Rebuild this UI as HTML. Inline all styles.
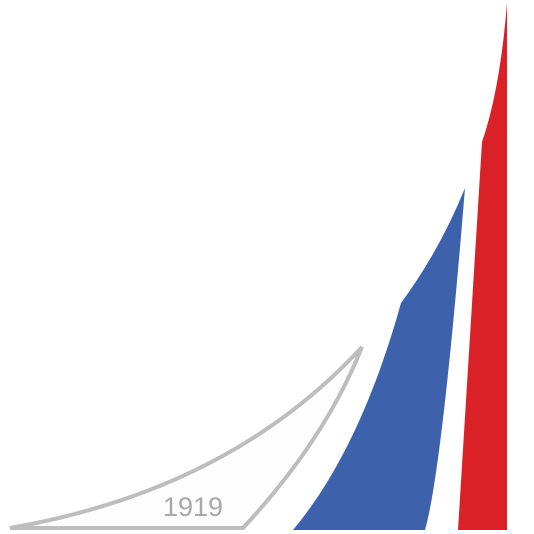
<!DOCTYPE html>
<html><head><meta charset="utf-8"><style>
html,body{margin:0;padding:0;background:#fff;}
svg{display:block;}
</style></head><body>
<svg width="534" height="534" viewBox="0 0 534 534">
  <path d="M10,528 L243,528 Q325,440 362,347 Q230,490 10,528 Z" fill="#fdfdfd" stroke="#bdbdbd" stroke-width="4" stroke-linejoin="miter"/>
  <text x="163" y="516" font-family="'Liberation Sans', sans-serif" font-size="27" fill="#a8a8a8">1919</text>
  <path d="M293,530 L425,530 Q442,470 465,188 Q440,250 401,303 Q360,450 293,530 Z" fill="#3d62ab"/>
  <path d="M458,530 L507,530 L507,3 Q500,90 482,142 Z" fill="#d92127"/>
</svg>
</body></html>
